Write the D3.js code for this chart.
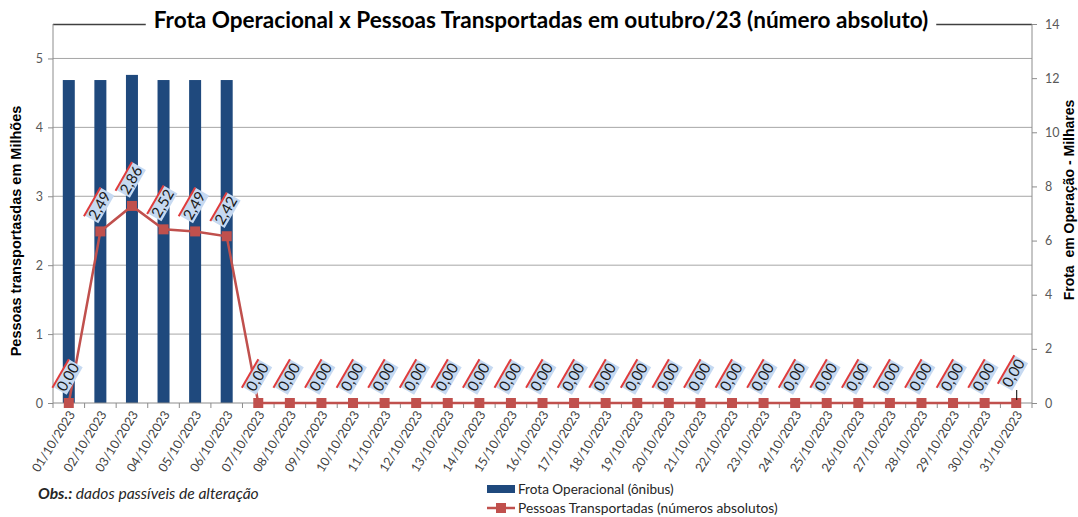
<!DOCTYPE html>
<html><head><meta charset="utf-8">
<script src="https://cdn.jsdelivr.net/npm/d3@7"></script>
<style>body{margin:0;background:#fff}svg{display:block}</style>
</head><body>
<svg id="c" width="1078" height="517"></svg>
<script>
const dates = ["01/10/2023","02/10/2023","03/10/2023","04/10/2023","05/10/2023","06/10/2023","07/10/2023","08/10/2023","09/10/2023","10/10/2023","11/10/2023","12/10/2023","13/10/2023","14/10/2023","15/10/2023","16/10/2023","17/10/2023","18/10/2023","19/10/2023","20/10/2023","21/10/2023","22/10/2023","23/10/2023","24/10/2023","25/10/2023","26/10/2023","27/10/2023","28/10/2023","29/10/2023","30/10/2023","31/10/2023"];
// Frota operacional (milhares de ônibus) - eixo direito
const frota = [11.93,11.93,12.12,11.93,11.93,11.93,0,0,0,0,0,0,0,0,0,0,0,0,0,0,0,0,0,0,0,0,0,0,0,0,0];
// Pessoas transportadas (milhões) - eixo esquerdo
const pessoas = [0,2.49,2.86,2.52,2.49,2.42,0,0,0,0,0,0,0,0,0,0,0,0,0,0,0,0,0,0,0,0,0,0,0,0,0];
const leftTicks = [0,1,2,3,4,5];
const rightTicks = [0,2,4,6,8,10,12,14];
const titleText = "Frota Operacional x Pessoas Transportadas em outubro/23 (número absoluto)";
const leftTitle = "Pessoas transportasdas em Milhões";
const rightTitle = "Frota  em Operação - Milhares";
const legendLabels = ["Frota Operacional (ônibus)", "Pessoas Transportadas (números absolutos)"];

const svg = d3.select("#c");
const L = 53, R = 1032, T = 24, B = 403;
const FONT = "Lato, 'Open Sans', sans-serif";
const BAR = "#1F497D", LINE = "#C0504D";

const x = d3.scaleBand().domain(dates).range([L, R]).paddingInner(0.62).paddingOuter(0.31);
const yL = d3.scaleLinear().domain([0, 5.5]).range([B, T]);
const yR = d3.scaleLinear().domain([0, 14]).range([B, T]);
const cx = d => x(d) + x.bandwidth() / 2;

function fit(sel, base, target) {
  sel.attr("font-size", base);
  const w = sel.node().getComputedTextLength();
  sel.attr("font-size", base * target / w);
}

// gridlines
svg.append("g").selectAll("line").data(leftTicks.filter(t => t > 0)).join("line")
  .attr("x1", L).attr("x2", R).attr("y1", d => yL(d)).attr("y2", d => yL(d))
  .attr("stroke", "#a6a6a6").attr("stroke-width", 1);

// top border line
svg.append("line").attr("x1", L).attr("x2", R).attr("y1", T + 0.5).attr("y2", T + 0.5)
  .attr("stroke", "#404040").attr("stroke-width", 1.3);

// bars
svg.append("g").selectAll("rect").data(dates.map((d, i) => ({d, v: frota[i]}))).join("rect")
  .attr("x", o => x(o.d)).attr("width", x.bandwidth())
  .attr("y", o => yR(o.v)).attr("height", o => B - yR(o.v))
  .attr("fill", BAR);

// left axis
const gl = svg.append("g").attr("transform", `translate(${L},0)`)
  .call(d3.axisLeft(yL).tickValues(leftTicks).tickSize(5).tickPadding(5).tickFormat(d3.format("d")));
// right axis
const gr = svg.append("g").attr("transform", `translate(${R},0)`)
  .call(d3.axisRight(yR).tickValues(rightTicks).tickSize(5).tickPadding(8).tickFormat(d3.format("d")));
[gl, gr].forEach(g => {
  g.select(".domain").attr("stroke", "#8c8c8c").attr("d", `M0,${T}V${B}`);
  g.selectAll(".tick line").attr("stroke", "#8c8c8c");
  g.selectAll(".tick text").attr("font-family", FONT).attr("font-size", 12.5).attr("fill", "#595959");
});

// x axis
const gx = svg.append("g").attr("transform", `translate(0,${B})`)
  .call(d3.axisBottom(x).tickSize(0).tickPadding(0));
gx.select(".domain").attr("stroke", "#8c8c8c").attr("d", `M${L},0H${R}`);
const step = x.step();
gx.selectAll("line.sep").data(d3.range(dates.length + 1)).join("line").attr("class", "sep")
  .attr("x1", i => L + i * step).attr("x2", i => L + i * step).attr("y1", 0).attr("y2", 5)
  .attr("stroke", "#8c8c8c");
gx.selectAll(".tick text")
  .attr("font-family", FONT).attr("font-size", 12.5).attr("fill", "#404040")
  .attr("text-anchor", "end").attr("dy", "0.35em")
  .attr("transform", "translate(3,9) rotate(-58)");

// line
svg.append("path").datum(dates.map((d, i) => ({d, v: pessoas[i]})))
  .attr("fill", "none").attr("stroke", LINE).attr("stroke-width", 2.5)
  .attr("d", d3.line().x(o => cx(o.d)).y(o => yL(o.v)));
svg.append("g").selectAll("rect").data(dates.map((d, i) => ({d, v: pessoas[i]}))).join("rect")
  .attr("x", o => cx(o.d) - 5).attr("y", o => yL(o.v) - 5).attr("width", 10).attr("height", 10)
  .attr("fill", LINE);

// data labels
const fmt = v => d3.format(".2f")(v).replace(".", ",");
const labs = svg.append("g").selectAll("g").data(dates.map((d, i) => ({d, v: pessoas[i], i}))).join("g")
  .attr("transform", o => {
    const last = o.i === dates.length - 1;
    return `translate(${cx(o.d) - 1 - (last ? 2 : 0)},${yL(o.v) - 26 - (last ? 4 : 0)}) rotate(-60)`;
  });
labs.append("rect").attr("x", -16).attr("y", -8).attr("width", 32).attr("height", 16).attr("fill", "#c6d9f1");
labs.append("line").attr("x1", -17).attr("x2", 16).attr("y1", -8).attr("y2", -8)
  .attr("stroke", "#e03c3c").attr("stroke-width", 2);
labs.append("text").text(o => fmt(o.v)).attr("text-anchor", "middle").attr("dy", "0.36em")
  .attr("font-family", FONT).attr("font-size", 15).attr("fill", "#1a1a1a");
const lastD = dates[dates.length - 1];
svg.append("line").attr("x1", cx(lastD) + 0.5).attr("x2", cx(lastD) + 0.5)
  .attr("y1", yL(0) - 13).attr("y2", yL(0) - 3).attr("stroke", "#000").attr("stroke-width", 1);

// title
const tg = svg.append("g");
const tbg = tg.append("rect").attr("fill", "#fff");
const tt = tg.append("text").attr("x", 541).attr("y", 28).attr("text-anchor", "middle")
  .attr("font-family", FONT).attr("font-weight", "bold").attr("fill", "#000")
  .text(titleText);
fit(tt, 21, 775);
const bb = tt.node().getBBox();
tbg.attr("x", bb.x - 8).attr("y", T - 4).attr("width", bb.width + 16).attr("height", 8);

// axis titles
svg.append("text").attr("transform", "translate(21,231) rotate(-90)").attr("text-anchor", "middle")
  .attr("font-family", "'Liberation Sans', Arial, sans-serif").attr("font-weight", "bold").attr("font-size", 14.5)
  .text(leftTitle);
svg.append("text").attr("transform", "translate(1074,200) rotate(-90)").attr("text-anchor", "middle")
  .attr("font-family", "'Liberation Sans', Arial, sans-serif").attr("font-weight", "bold").attr("font-size", 14)
  .style("white-space", "pre")
  .text(rightTitle);

// legend
const lg = svg.append("g");
lg.append("rect").attr("x", 487).attr("y", 485).attr("width", 28).attr("height", 8).attr("fill", BAR);
fit(lg.append("text").attr("x", 518).attr("y", 494).attr("font-family", FONT).attr("fill", "#262626").text(legendLabels[0]), 13, 156);
lg.append("line").attr("x1", 487).attr("x2", 515).attr("y1", 508).attr("y2", 508).attr("stroke", LINE).attr("stroke-width", 2.5);
lg.append("rect").attr("x", 496).attr("y", 503).attr("width", 10).attr("height", 10).attr("fill", LINE);
fit(lg.append("text").attr("x", 518).attr("y", 513).attr("font-family", FONT).attr("fill", "#262626").text(legendLabels[1]), 13, 260);

// obs
const ob = svg.append("text").attr("x", 38).attr("y", 499).attr("font-family", FONT).attr("fill", "#262626").attr("font-style", "italic");
ob.append("tspan").attr("font-weight", "bold").text("Obs.:");
ob.append("tspan").text(" dados passíveis de alteração");
fit(ob, 14, 221);
</script>
</body></html>
